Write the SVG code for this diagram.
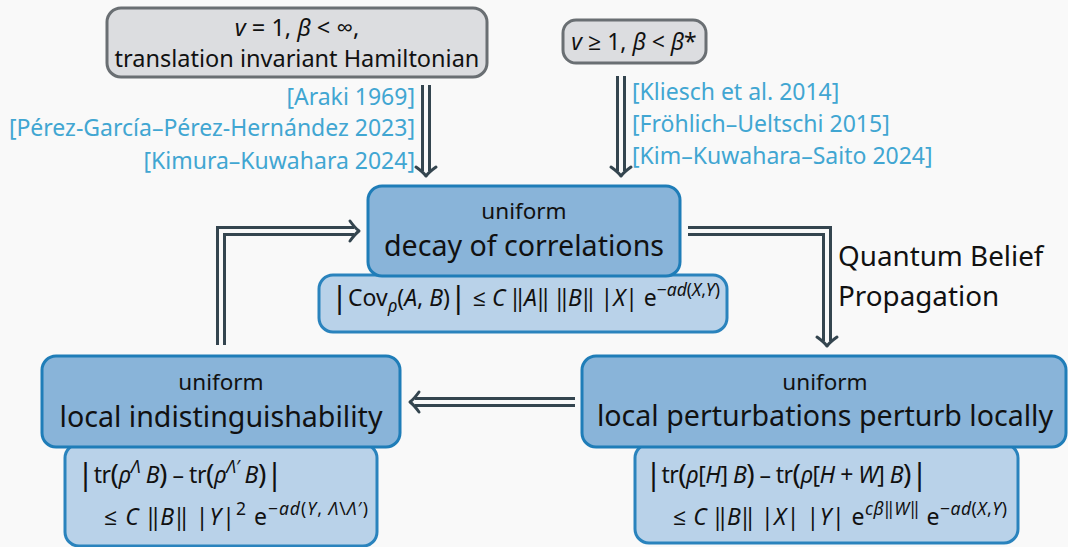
<svg xmlns="http://www.w3.org/2000/svg" width="1068" height="547" viewBox="0 0 1068 547">
  <style>
    text { font-family: "Noto Sans", "Open Sans", "Liberation Sans", sans-serif; fill: #111; font-variant-ligatures: none; }
    .cite { fill: #41a6d2; font-size: 23px; }
    .cond { fill: #dcdde0; stroke: #6a6f73; stroke-width: 3; }
    .main { fill: #89b4d9; stroke: #1f7db8; stroke-width: 3; }
    .sub { fill: #b9d2e9; stroke: #2a83bd; stroke-width: 3; }
    .small { font-size: 22.5px; }
    .big { font-size: 28.6px; }
    .m { font-size: 23px; }
    .i { font-style: italic; }
    .s { font-size: 17.5px; }
    .bar { font-size: 31px; }
    .par { font-size: 28px; }
    .wire { fill: none; stroke: #34454f; stroke-width: 10; stroke-linejoin: miter; }
    .gap { fill: none; stroke: #f9f9f9; stroke-width: 4; stroke-linejoin: miter; }
    .head { fill: none; stroke: #34454f; stroke-width: 3; stroke-linecap: round; stroke-linejoin: round; }
  </style>
  <defs>
    <!-- implies-style arrow tip, pointing right, tip at origin -->
    <path id="tip" class="head" d="M -9 -10 Q -4 -3 0 0 Q -4 3 -9 10"/>
  </defs>
  <rect width="1068" height="547" fill="#f9f9f9"/>

  <!-- connectors -->
  <g id="connectors">
    <path class="wire" d="M426 85 V171"/>
    <path class="gap" d="M426 85 V171"/>
    <use href="#tip" transform="translate(426 176) rotate(90)"/>

    <path class="wire" d="M621 76 V171"/>
    <path class="gap" d="M621 76 V171"/>
    <use href="#tip" transform="translate(621 176) rotate(90)"/>

    <path class="wire" d="M221 345 V231 H354"/>
    <path class="gap" d="M221 345 V231 H354"/>
    <use href="#tip" transform="translate(359 231)"/>

    <path class="wire" d="M688 231 H827 V341"/>
    <path class="gap" d="M688 231 H827 V341"/>
    <use href="#tip" transform="translate(827 346) rotate(90)"/>

    <path class="wire" d="M575 402 H415"/>
    <path class="gap" d="M575 402 H415"/>
    <use href="#tip" transform="translate(410 402) rotate(180)"/>

    <text x="838" y="266" font-size="27.8">Quantum Belief</text>
    <text x="838" y="306" font-size="27.8">Propagation</text>
  </g>

  <!-- references -->
  <g id="refs-left" text-anchor="end">
    <text class="cite" x="415" y="105">[Araki 1969]</text>
    <text class="cite" x="415" y="136">[Pérez-García–Pérez-Hernández 2023]</text>
    <text class="cite" x="415" y="169">[Kimura–Kuwahara 2024]</text>
  </g>
  <g id="refs-right">
    <text class="cite" x="632" y="100">[Kliesch et al. 2014]</text>
    <text class="cite" x="632" y="132">[Fröhlich–Ueltschi 2015]</text>
    <text class="cite" x="632" y="164">[Kim–Kuwahara–Saito 2024]</text>
  </g>

  <!-- assumption: translation invariant -->
  <g id="cond-ti" text-anchor="middle">
    <rect class="cond" x="107" y="8" width="380" height="69" rx="14"/>
    <text x="297" y="36" font-size="23.5"><tspan class="i">v</tspan> = 1, <tspan class="i">β</tspan> &lt; ∞,</text>
    <text x="297" y="67" font-size="23.5">translation invariant Hamiltonian</text>
  </g>

  <!-- assumption: high temperature -->
  <g id="cond-ht" text-anchor="middle">
    <rect class="cond" x="563" y="20" width="143" height="43" rx="13"/>
    <text x="634" y="50" font-size="23"><tspan class="i">v</tspan> ≥ 1, <tspan class="i">β</tspan> &lt; <tspan class="i">β</tspan>*</text>
  </g>

  <!-- decay of correlations -->
  <g id="node-doc">
    <rect class="sub" x="319" y="275" width="408" height="57" rx="14"/>
    <rect class="main" x="368" y="186" width="312" height="90" rx="14"/>
    <text x="524" y="219" text-anchor="middle" class="small">uniform</text>
    <text x="524" y="256" text-anchor="middle" class="big">decay of correlations</text>
    <text x="331" y="306" class="m" textLength="389" lengthAdjust="spacing"><tspan class="bar" dy="2">|</tspan><tspan dy="-2">Cov</tspan><tspan class="i s" dy="6">ρ</tspan><tspan dy="-6">(</tspan><tspan class="i">A</tspan>, <tspan class="i">B</tspan>)<tspan class="bar" dy="2">|</tspan><tspan dy="-2"> ≤ </tspan><tspan class="i">C</tspan> ‖<tspan class="i">A</tspan>‖ ‖<tspan class="i">B</tspan>‖ |<tspan class="i">X</tspan>| e<tspan class="s" dy="-10">−<tspan class="i">ad</tspan>(<tspan class="i">X</tspan>,<tspan class="i">Y</tspan>)</tspan></text>
  </g>

  <!-- local indistinguishability -->
  <g id="node-li">
    <rect class="sub" x="65" y="444" width="312" height="102" rx="14"/>
    <rect class="main" x="42" y="356" width="358" height="91" rx="14"/>
    <text x="221" y="390" text-anchor="middle" class="small">uniform</text>
    <text x="221" y="427" text-anchor="middle" class="big">local indistinguishability</text>
    <text x="77" y="483" class="m" textLength="206" lengthAdjust="spacing"><tspan class="bar" dy="2">|</tspan><tspan dy="-2">tr</tspan><tspan class="par" dy="1">(</tspan><tspan class="i" dy="-1">ρ</tspan><tspan class="i s" dy="-10">Λ</tspan><tspan class="i" dy="10"> B</tspan><tspan class="par" dy="1">)</tspan><tspan dy="-1"> – tr</tspan><tspan class="par" dy="1">(</tspan><tspan class="i" dy="-1">ρ</tspan><tspan class="i s" dy="-10">Λ′</tspan><tspan class="i" dy="10"> B</tspan><tspan class="par" dy="1">)</tspan><tspan class="bar" dy="1">|</tspan></text>
    <text x="104" y="525" class="m" textLength="264" lengthAdjust="spacing">≤ <tspan class="i">C</tspan> ‖<tspan class="i">B</tspan>‖ |<tspan class="i">Y</tspan>|<tspan class="s" dy="-10">2</tspan><tspan dy="10"> e</tspan><tspan class="s" dy="-10">−<tspan class="i">ad</tspan>(<tspan class="i">Y</tspan>, <tspan class="i">Λ</tspan>\<tspan class="i">Λ</tspan>′)</tspan></text>
  </g>

  <!-- local perturbations perturb locally -->
  <g id="node-lppl">
    <rect class="sub" x="635" y="444" width="383" height="99" rx="14"/>
    <rect class="main" x="582" y="356" width="484" height="91" rx="14"/>
    <text x="825" y="390" text-anchor="middle" class="small">uniform</text>
    <text x="825" y="426" text-anchor="middle" class="big">local perturbations perturb locally</text>
    <text x="645" y="483" class="m" textLength="283" lengthAdjust="spacing"><tspan class="bar" dy="2">|</tspan><tspan dy="-2">tr</tspan><tspan class="par" dy="1">(</tspan><tspan class="i" dy="-1">ρ</tspan>[<tspan class="i">H</tspan>] <tspan class="i">B</tspan><tspan class="par" dy="1">)</tspan><tspan dy="-1"> – tr</tspan><tspan class="par" dy="1">(</tspan><tspan class="i" dy="-1">ρ</tspan>[<tspan class="i">H</tspan> + <tspan class="i">W</tspan>] <tspan class="i">B</tspan><tspan class="par" dy="1">)</tspan><tspan class="bar" dy="1">|</tspan></text>
    <text x="673" y="525" class="m" textLength="334" lengthAdjust="spacing">≤ <tspan class="i">C</tspan> ‖<tspan class="i">B</tspan>‖ |<tspan class="i">X</tspan>| |<tspan class="i">Y</tspan>| e<tspan class="s" dy="-10"><tspan class="i">cβ</tspan>‖<tspan class="i">W</tspan>‖</tspan><tspan dy="10"> e</tspan><tspan class="s" dy="-10">−<tspan class="i">ad</tspan>(<tspan class="i">X</tspan>,<tspan class="i">Y</tspan>)</tspan></text>
  </g>
</svg>
